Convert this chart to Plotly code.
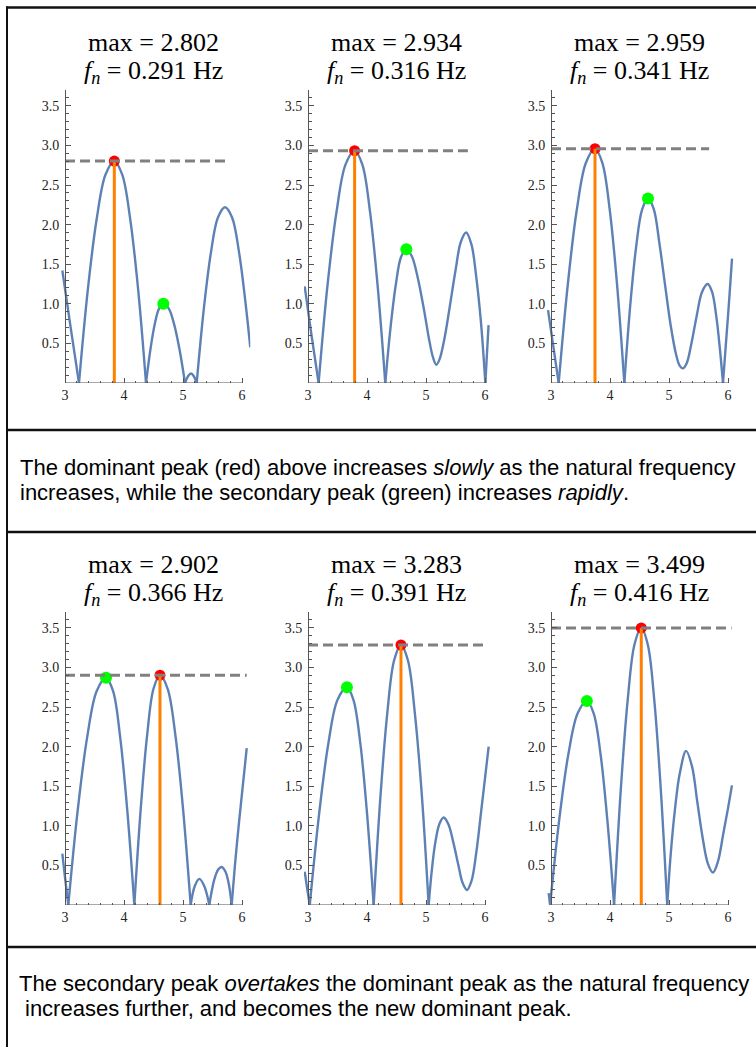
import plotly.graph_objects as go

W, H = 756, 1047

# ---------------- data ----------------
fn_hz = [0.291, 0.316, 0.341, 0.366, 0.391, 0.416]
max_vals = [2.802, 2.934, 2.959, 2.902, 3.283, 3.499]
peak_x = [3.836, 3.79, 3.746, 4.61, 4.576, 4.53]
green_x = [4.667, 4.667, 4.644, 3.695, 3.66, 3.608]
green_y = [1.00, 1.69, 2.33, 2.87, 2.75, 2.577]
dash_start = [3.0, 3.0, 3.0, 3.0, 3.0, 3.0]
dash_end = [5.76, 5.71, 5.68, 6.08, 6.05, 6.06]

x_ticks = [3, 4, 5, 6]
x_tick_text = ["3", "4", "5", "6"]
y_ticks = [0.5, 1.0, 1.5, 2.0, 2.5, 3.0, 3.5]
y_tick_text = ["0.5", "1.0", "1.5", "2.0", "2.5", "3.0", "3.5"]

x1 = [2.955, 3.10, 3.237, None, 3.237, 3.387, 3.537, 3.686, 3.836, 3.97, 4.105, 4.24, 4.373, None,
      4.373, 4.447, 4.52, 4.594, 4.667, 4.759, 4.85, 4.942, 5.034, None,
      5.034, 5.085, 5.136, 5.184, 5.232, None,
      5.232, 5.352, 5.472, 5.592, 5.712, 5.832, 5.952, 6.072, 6.14]
y1 = [1.42, 0.68, 0, None, 0, 1.18, 2.07, 2.63, 2.802, 2.63, 2.07, 1.18, 0, None,
      0, 0.42, 0.74, 0.94, 1.00, 0.94, 0.74, 0.42, 0, None,
      0, 0.085, 0.12, 0.085, 0, None,
      0, 0.93, 1.64, 2.09, 2.22, 2.09, 1.64, 0.93, 0.45]

x2 = [2.944, 3.06, 3.18, None, 3.18, 3.33, 3.485, 3.637, 3.79, 3.92, 4.05, 4.18, 4.31, None,
      4.31, 4.40, 4.49, 4.577, 4.667, 4.76, 4.86, 4.96, 5.06, 5.12, 5.175, 5.23, 5.31, 5.40, 5.50,
      5.59, 5.68, 5.77, 5.85, 5.93, 6.006, None, 6.006, 6.06]
y2 = [1.22, 0.6, 0, None, 0, 1.23, 2.17, 2.76, 2.934, 2.76, 2.17, 1.23, 0, None,
      0, 0.71, 1.25, 1.59, 1.69, 1.6, 1.33, 0.95, 0.52, 0.32, 0.23, 0.3, 0.55, 0.95, 1.42,
      1.78, 1.9, 1.75, 1.35, 0.78, 0, None, 0, 0.73]

x3 = [2.95, 3.04, 3.13, None, 3.13, 3.284, 3.438, 3.592, 3.746, 3.87, 3.995, 4.12, 4.243, None,
      4.243, 4.343, 4.443, 4.544, 4.644, 4.74, 4.84, 4.94, 5.03, 5.12, 5.18, 5.237, 5.30, 5.38,
      5.47, 5.56, 5.655, 5.73, 5.80, 5.86, 5.915, None, 5.915, 5.97, 6.02, 6.068]
y3 = [0.92, 0.46, 0, None, 0, 1.24, 2.19, 2.78, 2.959, 2.78, 2.19, 1.24, 0, None,
      0, 0.98, 1.72, 2.19, 2.33, 2.2, 1.75, 1.2, 0.72, 0.36, 0.22, 0.185, 0.25, 0.5,
      0.85, 1.15, 1.25, 1.15, 0.85, 0.45, 0, None, 0, 0.55, 1.05, 1.57]

x4 = [2.955, 3.0, 3.056, None, 3.056, 3.216, 3.376, 3.536, 3.695, 3.815, 3.935, 4.055, 4.175, None,
      4.175, 4.284, 4.393, 4.50, 4.61, 4.74, 4.87, 5.0, 5.13, None,
      5.13, 5.20, 5.277, 5.36, 5.446, None,
      5.446, 5.53, 5.60, 5.655, 5.72, 5.78, 5.825, None,
      5.825, 5.88, 5.95, 6.02, 6.08]
y4 = [0.65, 0.35, 0, None, 0, 1.2, 2.12, 2.7, 2.87, 2.7, 2.12, 1.2, 0, None,
      0, 1.22, 2.15, 2.73, 2.902, 2.73, 2.15, 1.22, 0, None,
      0, 0.24, 0.33, 0.24, 0, None,
      0, 0.32, 0.45, 0.48, 0.42, 0.25, 0, None,
      0, 0.5, 1.05, 1.55, 1.98]

x5 = [2.944, 2.99, 3.03, None, 3.03, 3.19, 3.345, 3.50, 3.66, 3.77, 3.887, 4.0, 4.113, None,
      4.113, 4.229, 4.345, 4.46, 4.576, 4.693, 4.81, 4.93, 5.045, None,
      5.045, 5.10, 5.16, 5.23, 5.30, 5.38, 5.46, 5.55, 5.62, 5.695, 5.77, 5.85, 5.93, 6.0, 6.062]
y5 = [0.42, 0.19, 0, None, 0, 1.16, 2.04, 2.59, 2.75, 2.59, 2.04, 1.16, 0, None,
      0, 1.38, 2.43, 3.09, 3.283, 3.09, 2.43, 1.38, 0, None,
      0, 0.45, 0.8, 1.03, 1.105, 1.02, 0.8, 0.5, 0.28, 0.19, 0.3, 0.65, 1.15, 1.6, 2.0]

x6 = [2.96, 2.985, None, 2.985, 3.14, 3.296, 3.452, 3.608, 3.723, 3.839, 3.954, 4.069, None,
      4.069, 4.184, 4.30, 4.415, 4.53, 4.64, 4.75, 4.86, 4.97, None,
      4.97, 5.03, 5.10, 5.18, 5.29, 5.39, 5.48, 5.57, 5.66, 5.746, 5.83, 5.92, 6.0, 6.067]
y6 = [0.15, 0, None, 0, 1.08, 1.91, 2.42, 2.577, 2.42, 1.91, 1.08, 0, None,
      0, 1.47, 2.59, 3.29, 3.499, 3.29, 2.59, 1.47, 0, None,
      0, 0.65, 1.2, 1.65, 1.946, 1.75, 1.3, 0.85, 0.52, 0.41, 0.55, 0.9, 1.22, 1.51]

curves_x = [x1, x2, x3, x4, x5, x6]
curves_y = [y1, y2, y3, y4, y5, y6]

caption_top = [
    "The dominant peak (red) above increases <i>slowly</i> as the natural frequency",
    "increases, while the secondary peak (green) increases <i>rapidly</i>.",
]
caption_bottom = [
    "The secondary peak <i>overtakes</i> the dominant peak as the natural frequency",
    "increases further, and becomes the new dominant peak.",
]

# ---------------- styling / layout ----------------
blue = "rgb(94,129,181)"
orange = "rgb(255,127,0)"
gray = "rgb(128,128,128)"
axis_col = "#555555"
serif = "Liberation Serif, Times New Roman, serif"
sans = "Liberation Sans, Arial, sans-serif"

col_origin = [65, 308, 551]   # pixel x of data x=3
row_origin = [383, 905]       # pixel y of data y=0
ppu_x, ppu_y = 59.0, 79.2
x_lo, x_hi = 2.93, 6.14
y_lo, y_hi = 0.0, 3.7

fig = go.Figure()
layout = dict(
    width=W, height=H, autosize=False,
    margin=dict(l=0, r=0, t=0, b=0),
    paper_bgcolor="white", plot_bgcolor="rgba(0,0,0,0)",
    showlegend=False,
)
annotations = []
shapes = []

for i in range(6):
    r, c = divmod(i, 3)
    ox, oy = col_origin[c], row_origin[r]
    xd = [(ox - (3 - x_lo) * ppu_x) / W, (ox + (x_hi - 3) * ppu_x) / W]
    yd = [1 - oy / H, 1 - (oy - (y_hi - y_lo) * ppu_y) / H]
    sfx = "" if i == 0 else str(i + 1)
    xa, ya = "x" + sfx, "y" + sfx

    fig.add_trace(go.Scatter(
        x=curves_x[i], y=curves_y[i], xaxis=xa, yaxis=ya, mode="lines",
        line=dict(color=blue, width=2.4, shape="spline", smoothing=1),
        connectgaps=False, hoverinfo="skip"))
    fig.add_trace(go.Scatter(
        x=[green_x[i]], y=[green_y[i]], xaxis=xa, yaxis=ya, mode="markers",
        marker=dict(color="#00ff00", size=12), hoverinfo="skip"))
    fig.add_trace(go.Scatter(
        x=[peak_x[i]], y=[max_vals[i]], xaxis=xa, yaxis=ya, mode="markers",
        marker=dict(color="#ff0000", size=11), hoverinfo="skip"))
    fig.add_trace(go.Scatter(
        x=[peak_x[i], peak_x[i]], y=[0, max_vals[i]], xaxis=xa, yaxis=ya, mode="lines",
        line=dict(color=orange, width=3), hoverinfo="skip"))
    fig.add_trace(go.Scatter(
        x=[dash_start[i], dash_end[i]], y=[max_vals[i], max_vals[i]], xaxis=xa, yaxis=ya,
        mode="lines", line=dict(color=gray, width=3, dash="10px,5px"), hoverinfo="skip"))

    layout["xaxis" + sfx] = dict(
        domain=xd, range=[x_lo, x_hi], anchor=ya, showline=False, showgrid=False,
        zeroline=False, tickmode="array", tickvals=x_ticks, ticktext=x_tick_text,
        ticks="inside", ticklen=5, tickwidth=1, tickcolor=axis_col,
        minor=dict(tickmode="linear", tick0=3, dtick=0.2, ticks="inside", ticklen=2.5,
                   tickwidth=1, tickcolor=axis_col, showgrid=False),
        tickfont=dict(family=serif, size=14, color="#222222"),
        ticklabelstandoff=2, fixedrange=True)
    layout["yaxis" + sfx] = dict(
        domain=yd, range=[y_lo, y_hi], anchor="free", position=ox / W,
        showline=True, linecolor=axis_col, linewidth=1, showgrid=False, zeroline=False,
        tickmode="array", tickvals=y_ticks, ticktext=y_tick_text,
        ticks="inside", ticklen=5, tickwidth=1, tickcolor=axis_col,
        minor=dict(tickmode="linear", tick0=0, dtick=0.1, ticks="inside", ticklen=2.5,
                   tickwidth=1, tickcolor=axis_col, showgrid=False),
        tickfont=dict(family=serif, size=14, color="#222222"),
        ticklabelstandoff=3, fixedrange=True)

    # x axis line from 3 to 6 at y = 0
    shapes.append(dict(type="line", xref=xa, yref=ya, x0=3, x1=6, y0=0, y1=0,
                       line=dict(color=axis_col, width=1)))

    tx = (ox + 88) / W
    annotations.append(dict(
        text=f"max = {max_vals[i]:.3f}", xref="paper", yref="paper",
        x=tx, y=1 - (oy - 341) / H, xanchor="center", yanchor="middle",
        showarrow=False, font=dict(family=serif, size=26, color="black")))
    annotations.append(dict(
        text=f"<i>f</i><sub><i>n</i></sub> = {fn_hz[i]:.3f} Hz", xref="paper", yref="paper",
        x=tx, y=1 - (oy - 311) / H, xanchor="center", yanchor="middle",
        showarrow=False, font=dict(family=serif, size=26, color="black")))

# captions
cap_font = dict(family=sans, size=22, color="black")
for txt, xp, yp in [(caption_top[0], 18, 467.5), (caption_top[1], 18, 492.5),
                    (caption_bottom[0], 17, 983.5), (caption_bottom[1], 23, 1008.5)]:
    annotations.append(dict(text=txt, xref="paper", yref="paper", x=xp / W, y=1 - yp / H,
                            xanchor="left", yanchor="middle", showarrow=False, font=cap_font))

# frame / grid dividers
frame_col = "#111111"
shapes.append(dict(type="line", xref="paper", yref="paper", x0=7 / W, x1=7 / W,
                   y0=0, y1=1 - 6.5 / H, line=dict(color=frame_col, width=2)))
for yp in [7.5, 430, 532, 947]:
    shapes.append(dict(type="line", xref="paper", yref="paper", x0=6 / W, x1=1,
                       y0=1 - yp / H, y1=1 - yp / H, line=dict(color=frame_col, width=2.5)))

layout["annotations"] = annotations
layout["shapes"] = shapes
fig.update_layout(**layout)
fig.write_html("out.html")
